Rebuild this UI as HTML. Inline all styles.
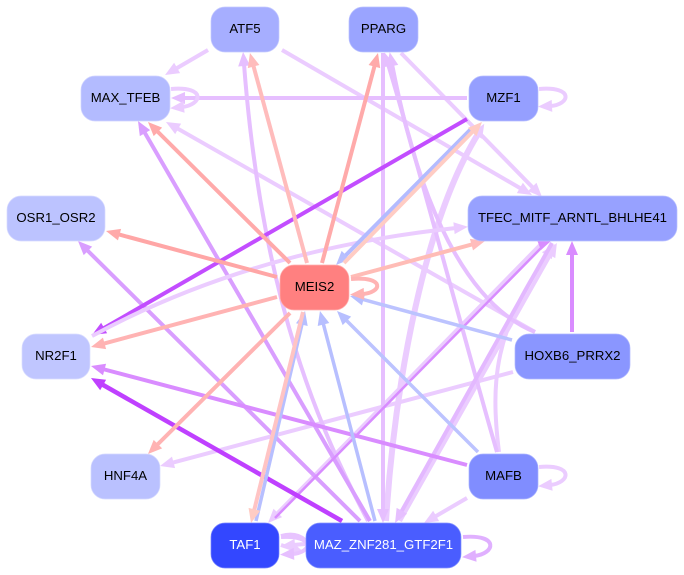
<!DOCTYPE html>
<html><head><meta charset="utf-8"><style>
html,body{margin:0;padding:0;background:#fff}
svg{display:block}
text{font-family:"Liberation Sans",sans-serif;font-size:13.2px;text-anchor:middle}
path.e{fill:none;stroke-width:4}
path.t{fill:none;stroke-width:3.5}
rect{stroke-width:.7}
</style></head><body>
<svg width="684" height="575" viewBox="0 0 684 575" xmlns="http://www.w3.org/2000/svg">
<defs>
<marker id="a" markerUnits="userSpaceOnUse" markerWidth="16" markerHeight="14" refX="2" refY="6.500" orient="auto" overflow="visible"><path d="M0,0.500L14,6.500L0,12.500z" fill="#ebccff"/></marker>
<marker id="b" markerUnits="userSpaceOnUse" markerWidth="16" markerHeight="14" refX="2" refY="6.500" orient="auto" overflow="visible"><path d="M0,0.500L14,6.500L0,12.500z" fill="#e6bfff"/></marker>
<marker id="c" markerUnits="userSpaceOnUse" markerWidth="16" markerHeight="14" refX="2" refY="6.500" orient="auto" overflow="visible"><path d="M0,0.500L14,6.500L0,12.500z" fill="#d99eff"/></marker>
<marker id="d" markerUnits="userSpaceOnUse" markerWidth="16" markerHeight="14" refX="2" refY="6.500" orient="auto" overflow="visible"><path d="M0,0.500L14,6.500L0,12.500z" fill="#d98cff"/></marker>
<marker id="e" markerUnits="userSpaceOnUse" markerWidth="16" markerHeight="14" refX="2" refY="6.500" orient="auto" overflow="visible"><path d="M0,0.500L14,6.500L0,12.500z" fill="#c24dff"/></marker>
<marker id="e2" markerUnits="userSpaceOnUse" markerWidth="16" markerHeight="14" refX="2" refY="6.500" orient="auto" overflow="visible"><path d="M0,0.500L14,6.500L0,12.500z" fill="#bf40ff"/></marker>
<marker id="f" markerUnits="userSpaceOnUse" markerWidth="16" markerHeight="14" refX="2" refY="6.500" orient="auto" overflow="visible"><path d="M0,0.500L14,6.500L0,12.500z" fill="#ffbcbc"/></marker>
<marker id="g" markerUnits="userSpaceOnUse" markerWidth="16" markerHeight="14" refX="2" refY="6.500" orient="auto" overflow="visible"><path d="M0,0.500L14,6.500L0,12.500z" fill="#ffaaaa"/></marker>
<marker id="h" markerUnits="userSpaceOnUse" markerWidth="16" markerHeight="14" refX="2" refY="6.500" orient="auto" overflow="visible"><path d="M0,0.500L14,6.500L0,12.500z" fill="#ffb3b3"/></marker>
<marker id="i" markerUnits="userSpaceOnUse" markerWidth="16" markerHeight="14" refX="2" refY="6.500" orient="auto" overflow="visible"><path d="M0,0.500L14,6.500L0,12.500z" fill="#ffccc4"/></marker>
<marker id="j" markerUnits="userSpaceOnUse" markerWidth="16" markerHeight="14" refX="2" refY="6.500" orient="auto" overflow="visible"><path d="M0,0.500L14,6.500L0,12.500z" fill="#b7bfff"/></marker>
<marker id="l" markerUnits="userSpaceOnUse" markerWidth="16" markerHeight="14" refX="2" refY="6.500" orient="auto" overflow="visible"><path d="M0,0.500L14,6.500L0,12.500z" fill="#e0b0ff"/></marker>
</defs>

<g fill="none" stroke-linecap="butt">
<path class="e" stroke="#ebccff" marker-end="url(#a)" d="M208,50L175.4,69"/>
<path class="e" stroke="#ebccff" marker-end="url(#a)" d="M282,50L521.6,189"/>
<path class="e" stroke="#ebccff" marker-end="url(#a)" d="M401,53L533.6,188.4"/>
<path class="e" stroke="#ebccff" marker-end="url(#a)" d="M535,332L176.4,127.9"/>
<path class="e" stroke="#ebccff" marker-end="url(#a)" d="M513,372L171.6,462.9"/>
<path class="e" stroke="#ebccff" marker-end="url(#a)" d="M467,498L434.4,517"/>
<path class="e" stroke="#ebccff" marker-end="url(#a)" d="M499,452C490,380 495,330 548,254"/>
<path class="e" stroke="#ebccff" style="stroke-width:6" marker-end="url(#a)" d="M386,521C395,380 425,220 478,134"/>
<path class="e" stroke="#ebccff" marker-end="url(#a)" d="M542,243L276.4,514.4"/>
<path class="e" stroke="#ebccff" marker-end="url(#a)" d="M400,521L551,253.4"/>
<path class="e" stroke="#e6bfff" marker-end="url(#b)" d="M467,98L183,98"/>
<path class="e" stroke="#e6bfff" marker-end="url(#b)" d="M383,53L383,511"/>
<path class="e" stroke="#e6bfff" marker-end="url(#b)" d="M368,521C320,430 262,300 244,64"/>
<path class="e" stroke="#e6bfff" marker-end="url(#b)" d="M535,332C480,310 425,235 392,64"/>
<path class="e" stroke="#e6bfff" marker-end="url(#b)" d="M497,452C470,360 420,170 388,64"/>
<path class="e" stroke="#e3b8ff" marker-end="url(#b)" d="M552,243L400.9,512.5"/>
<path class="e" stroke="#d99eff" marker-end="url(#c)" d="M360,521L86.5,249.5"/>
<path class="e" stroke="#d99eff" marker-end="url(#c)" d="M370,521L144,131.4"/>
<path class="e" stroke="#d88cff" style="stroke-width:2.5" d="M275,518L544,245"/>
<path class="e" stroke="#d98cff" marker-end="url(#d)" d="M467,465L102.6,369"/>
<path class="e" stroke="#d98cff" marker-end="url(#d)" d="M572,332L572,253"/>
<path class="e" stroke="#c24dff" marker-end="url(#e)" d="M467,119L102.4,329"/>
<path class="e" stroke="#ebccff" marker-end="url(#a)" d="M92,336Q250,250 456,228"/>
<path class="e" stroke="#bf40ff" style="stroke-width:4.5" marker-end="url(#e2)" d="M342,521L101.4,384"/>
<path class="t" stroke="#b3bbff" style="stroke-width:4" marker-end="url(#j)" d="M472,128L344.5,256.5"/>
<path class="t" stroke="#b7bfff" marker-end="url(#j)" d="M256,521L302.3,322.7"/>
<path class="t" stroke="#b7bfff" marker-end="url(#j)" d="M375,521L323,322.6"/>
<path class="t" stroke="#bcc3ff" marker-end="url(#j)" d="M478,452L345.5,319.5"/>
<path class="t" stroke="#bcc3ff" marker-end="url(#j)" d="M512,340L361.6,299.1"/>
<path class="e" stroke="#ffbcbc" marker-end="url(#f)" d="M307,263L253.1,64.6"/>
<path class="e" stroke="#ffaaaa" marker-end="url(#g)" d="M322,263L374.9,64.6"/>
<path class="e" stroke="#ffaaaa" marker-end="url(#g)" d="M290,263L156.5,130.5"/>
<path class="e" stroke="#ffa6a6" marker-end="url(#g)" d="M277,277L117.6,234.1"/>
<path class="e" stroke="#ffb3b3" marker-end="url(#h)" d="M277,297L102.6,343.9"/>
<path class="e" stroke="#ffb3b3" marker-end="url(#h)" d="M290,313L156.5,445.5"/>
<path class="e" stroke="#ffbcb6" marker-end="url(#f)" d="M351,277L473.4,244.1"/>
<path class="e" stroke="#ffc4c4" marker-end="url(#i)" d="M303,312L253.9,511.3"/>
<path class="e" stroke="#ffccc4" marker-end="url(#i)" d="M344,263L473.6,130.6"/>
<path class="e" stroke="#ffb3b3" marker-end="url(#h)" d="M351,279C386,276 382,293 362,294"/>
<path class="e" stroke="#ebccff" marker-end="url(#a)" d="M171,89C207,86 202,105 182,107"/>
<path class="e" stroke="#ebccff" marker-end="url(#a)" d="M539,89C575,86 570,105 550,106"/>
<path class="e" stroke="#ebccff" marker-end="url(#a)" d="M539,467C575,464 570,483 550,485"/>
<path class="e" stroke="#e0b0ff" style="stroke-width:4" marker-end="url(#l)" d="M463,537C500,534 495,554 474,556"/>
<path class="e" stroke="#e8c4ff" d="M281,536Q296,532 305,540"/>
<path class="e" stroke="#ebccff" marker-end="url(#a)" d="M305,544L293,545"/>
<path class="e" stroke="#ebccff" marker-end="url(#a)" d="M281,545L293,549"/>
<path class="e" stroke="#e8c4ff" marker-end="url(#b)" d="M281,537C316,535 312,553 292,554"/>
<path d="M537,240L551,241L541,250z" fill="#d88cff" stroke="none"/>
</g>

<g>
<rect x="211" y="7" width="68" height="45" rx="14" fill="#a6aeff" stroke="#c5caff"/>
<rect x="349" y="7" width="69" height="45" rx="14" fill="#9aa4ff" stroke="#bac1ff"/>
<rect x="81" y="76" width="89" height="45" rx="14" fill="#b3bbff" stroke="#d0d4ff"/>
<rect x="469" y="76" width="69" height="45" rx="14" fill="#959fff" stroke="#b7bfff"/>
<rect x="7" y="196" width="98" height="45" rx="14" fill="#bcc3ff" stroke="#d7daff"/>
<rect x="468" y="196" width="209" height="45" rx="14" fill="#97a1ff" stroke="#b9c0ff"/>
<rect x="280" y="265" width="69" height="45" rx="14" fill="#ff8080" stroke="#ffb0b0"/>
<rect x="22" y="334" width="68" height="45" rx="14" fill="#c0c6ff" stroke="#dadeff"/>
<rect x="515" y="334" width="115" height="45" rx="14" fill="#8a96ff" stroke="#b0b8ff"/>
<rect x="91" y="454" width="69" height="45" rx="14" fill="#bac1ff" stroke="#d5d9ff"/>
<rect x="469" y="454" width="69" height="45" rx="14" fill="#808dff" stroke="#a9b2ff"/>
<rect x="211" y="523" width="68" height="45" rx="14" fill="#3347ff" stroke="#7583ff"/>
<rect x="306" y="523" width="155" height="45" rx="14" fill="#4a5dff" stroke="#8593ff"/>
</g>

<g fill="#000">
<text x="245" y="33">ATF5</text>
<text x="383.500" y="33">PPARG</text>
<text x="125.500" y="102">MAX_TFEB</text>
<text x="503.500" y="102">MZF1</text>
<text x="56" y="222">OSR1_OSR2</text>
<text x="572.500" y="222">TFEC_MITF_ARNTL_BHLHE41</text>
<text x="314.500" y="291">MEIS2</text>
<text x="56" y="360">NR2F1</text>
<text x="572.500" y="360">HOXB6_PRRX2</text>
<text x="125.500" y="480">HNF4A</text>
<text x="503.500" y="480">MAFB</text>
<text x="245" y="549" fill="#fff">TAF1</text>
<text x="383.500" y="549" fill="#fff">MAZ_ZNF281_GTF2F1</text>
</g>
</svg>
</body></html>
